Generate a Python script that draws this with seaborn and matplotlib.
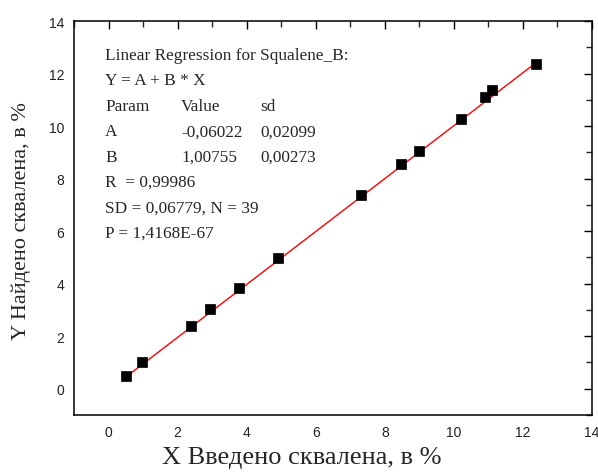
import matplotlib
matplotlib.use("Agg")
import matplotlib.pyplot as plt
import seaborn as sns
import numpy as np
import pandas as pd

# Data
x_added = [0.51, 0.98, 2.40, 2.95, 3.79, 4.92, 7.32, 8.48, 8.98, 10.20, 10.90, 11.10, 12.37]
y_found = [0.50, 1.00, 2.38, 3.03, 3.83, 4.98, 7.39, 8.54, 9.04, 10.27, 11.12, 11.36, 12.37]
fit_A = -0.06022
fit_B = 1.00755
x_ticks = [0, 2, 4, 6, 8, 10, 12, 14]
y_ticks = [0, 2, 4, 6, 8, 10, 12, 14]
annotation_lines = [
    ("Linear Regression for Squalene_B:", "", ""),
    ("Y = A + B * X", "", ""),
    ("Param", "Value", "sd"),
    ("A", "-0,06022", "0,02099"),
    ("B", "1,00755", "0,00273"),
    ("R  = 0,99986", "", ""),
    ("SD = 0,06779, N = 39", "", ""),
    ("P = 1,4168E-67", "", ""),
]

sns.set_style("white")
plt.rcParams["font.family"] = ["Liberation Sans", "DejaVu Sans"]
serif = ["Liberation Serif", "DejaVu Serif"]

fig = plt.figure(figsize=(5.98, 4.77), dpi=100)
ax = fig.add_axes([74 / 598, 61 / 477, (592 - 74) / 598, (416 - 22) / 477])

df = pd.DataFrame({"x": x_added, "y": y_found})
xf = np.array([min(x_added), max(x_added)])
fit_df = pd.DataFrame({"x": xf, "y": fit_A + fit_B * xf})

sns.lineplot(data=fit_df, x="x", y="y", ax=ax, color="red", linewidth=1.0, zorder=2)
sns.scatterplot(data=df, x="x", y="y", ax=ax, marker="s", s=55, color="black",
                edgecolor="black", linewidth=0.5, zorder=3)

ax.set_xlim(-1, 14)
ax.set_ylim(-1, 14)
ax.set_xticks(x_ticks)
ax.set_yticks(y_ticks)
ax.set_xticks(np.arange(-1, 15, 1), minor=True)
ax.set_yticks(np.arange(-1, 15, 1), minor=True)
ax.tick_params(which="major", direction="in", length=6, width=1, top=True, right=True,
               labelsize=10, colors="black", pad=7)
ax.tick_params(which="minor", direction="in", length=4, width=1, top=True, right=True)
for lbl in ax.get_xticklabels() + ax.get_yticklabels():
    lbl.set_color("#222222")
for sp in ax.spines.values():
    sp.set_color("black")
    sp.set_linewidth(1.1)

ax.set_xlabel("")
ax.set_ylabel("")
fig.text(302 / 598, 1 - 458 / 477, "X Введено сквалена, в %", fontsize=19,
         family=serif, ha="center", va="center")
fig.text(21 / 598, 1 - 221 / 477, "Y Найдено сквалена, в %", fontsize=16,
         family=serif, ha="center", va="center", rotation=90)

y0 = 55
for i, (c1, c2, c3) in enumerate(annotation_lines):
    ypix = y0 + i * 25.4 + 5
    yf = 1 - ypix / 477
    fig.text(105 / 598, yf, c1, fontsize=12.4, family=serif, va="baseline", ha="left")
    if c2:
        fig.text(181 / 598, yf, c2, fontsize=12.4, family=serif, va="baseline", ha="left")
    if c3:
        fig.text(260 / 598, yf, c3, fontsize=12.4, family=serif, va="baseline", ha="left")

fig.savefig("out.png", dpi=100, facecolor="white")
